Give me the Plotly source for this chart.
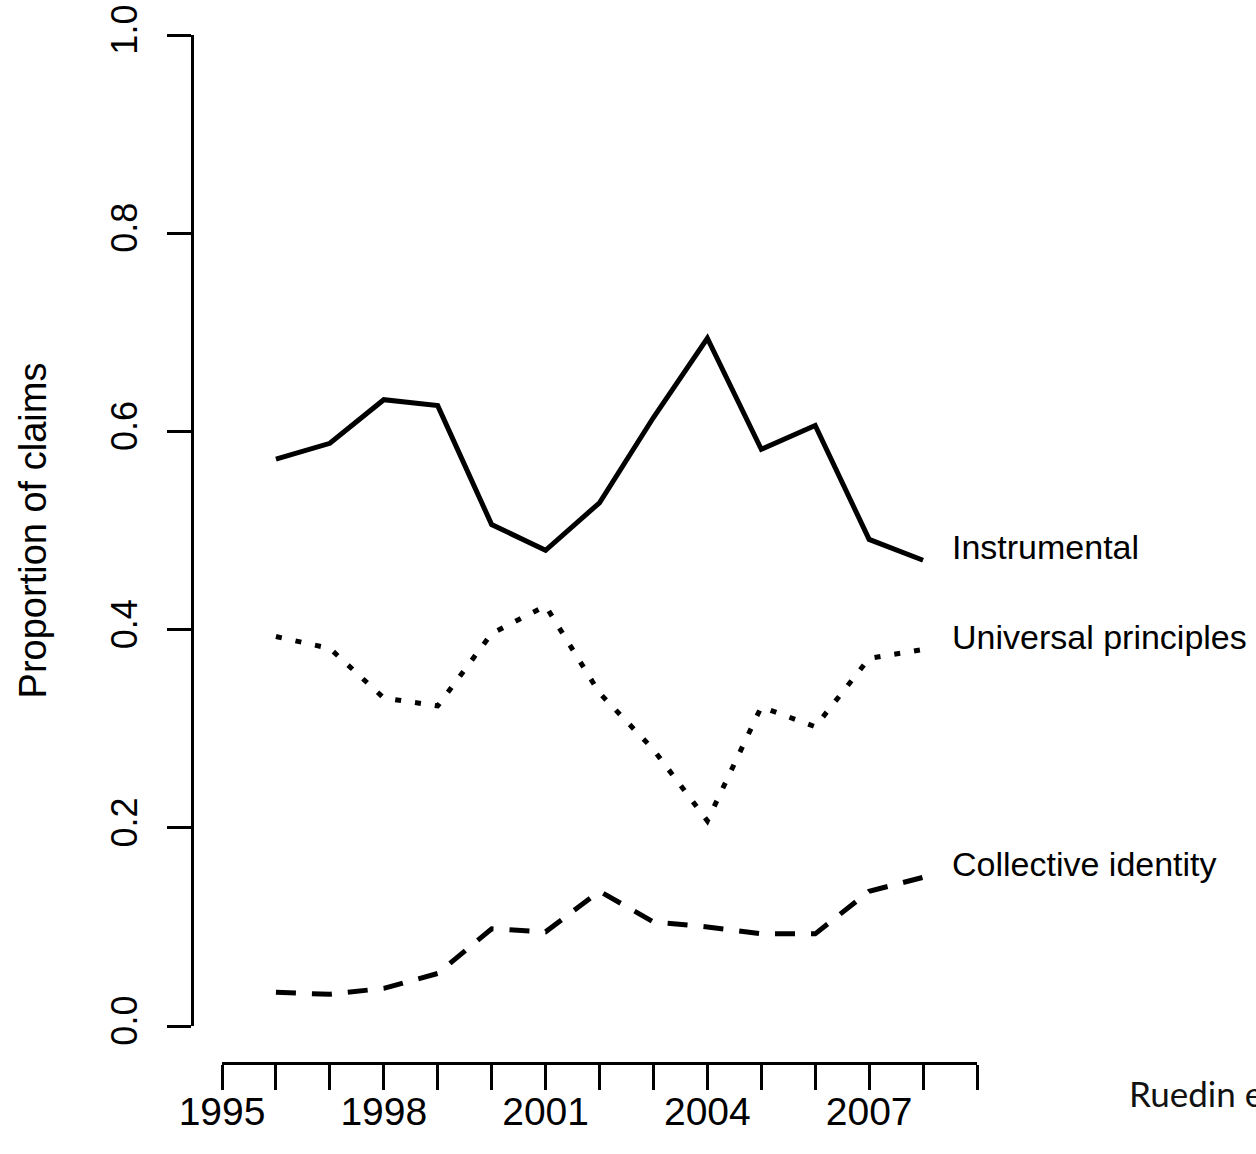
import plotly.graph_objects as go

years = list(range(1996, 2009))
instrumental = [0.572, 0.588, 0.632, 0.626, 0.506, 0.480, 0.528, 0.614, 0.694, 0.582, 0.606, 0.491, 0.470]
universal = [0.393, 0.381, 0.331, 0.323, 0.396, 0.424, 0.336, 0.279, 0.207, 0.322, 0.302, 0.371, 0.380]
collective = [0.034, 0.032, 0.038, 0.053, 0.098, 0.095, 0.136, 0.105, 0.100, 0.093, 0.093, 0.136, 0.150]
series_names = ["Instrumental", "Universal principles", "Collective identity"]

x_tickvals = list(range(1995, 2010))
x_ticktext = ["1995", "", "", "1998", "", "", "2001", "", "", "2004", "", "", "2007", "", ""]
y_tickvals = [0.0, 0.2, 0.4, 0.6, 0.8, 1.0]
y_ticktext = ["0.0", "0.2", "0.4", "0.6", "0.8", "1.0"]

FONT = "Liberation Sans, Arial, Helvetica, sans-serif"

fig = go.Figure()
styles = [
    dict(color="black", width=5, dash="solid"),
    dict(color="black", width=5, dash="6px,14px"),
    dict(color="black", width=5, dash="20px,16px"),
]
for name, vals, st in zip(series_names, [instrumental, universal, collective], styles):
    fig.add_trace(go.Scatter(x=years, y=vals, mode="lines", name=name, line=st,
                             showlegend=False, hoverinfo="skip"))
    fig.add_annotation(x=years[-1] + 0.5, y=vals[-1] + 0.013, xref="x", yref="y",
                       text=name, showarrow=False, xanchor="left", yanchor="middle",
                       font=dict(family=FONT, size=34, color="black"))

fig.add_annotation(x=(1127 - 192) / 785, y=-0.029, xref="paper", yref="paper", text="Ruedin et al.",
                   showarrow=False, xanchor="left", yanchor="middle",
                   font=dict(family="Lato, sans-serif", size=35, color="#111111"))

# invisible helper trace so the tick-only overlay axis is drawn
fig.add_trace(go.Scatter(x=[None], y=[None], yaxis="y2", showlegend=False, hoverinfo="skip"))

fig.update_layout(
    width=1256, height=1154,
    margin=dict(l=192, r=279, t=35, b=91, autoexpand=False),
    paper_bgcolor="white", plot_bgcolor="white",
    font=dict(family=FONT, size=38, color="black"),
    xaxis=dict(domain=[30 / 785, 1], range=[1995, 2009], anchor="free", position=0,
               automargin=False,
               showline=True, linecolor="black", linewidth=2.5, showgrid=False, zeroline=False,
               ticks="outside", ticklen=25, tickwidth=2.5, tickcolor="black",
               tickvals=x_tickvals, ticktext=x_ticktext, ticklabelstandoff=-12,
               tickfont=dict(family=FONT, size=39, color="black")),
    yaxis=dict(domain=[37 / 1028, 1], range=[0, 1], anchor="free", position=0,
               automargin=False,
               showline=False, showgrid=False, zeroline=False,
               ticks="outside", ticklen=41, tickwidth=1, tickcolor="rgba(0,0,0,0)",
               tickvals=y_tickvals, ticktext=y_ticktext, tickangle=-90,
               tickfont=dict(family=FONT, size=36, color="black"),
               title=dict(text="Proportion of claims", standoff=44,
                          font=dict(family=FONT, size=38, color="black"))),
    yaxis2=dict(overlaying="y", range=[0, 1], anchor="free", position=0, side="left",
                automargin=False,
                showline=True, linecolor="black", linewidth=2.5, showgrid=False, zeroline=False,
                ticks="outside", ticklen=24, tickwidth=2.5, tickcolor="black",
                tickvals=y_tickvals, showticklabels=False),
)

fig.write_html("out.html", config={"displayModeBar": False},
               post_script="document.body.style.margin='0';document.body.style.overflow='hidden';")
